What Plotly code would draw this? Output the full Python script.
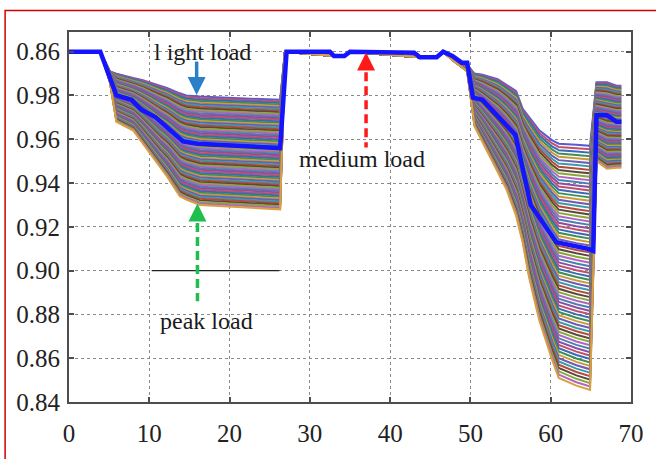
import numpy as np
import plotly.graph_objects as go

# Time axis (samples) shared by the bus voltage band
hours = [0, 3.9, 5.1, 5.9, 8.0, 9.2, 11.3, 12.2, 13.8, 14.6, 16.3, 26.3, 26.9,
         33.0, 34.3, 35.0, 43.7, 45.8, 46.6, 47.8, 48.9, 49.6, 50.5, 51.5, 53.4,
         54.5, 55.7, 56.5, 57.3, 58.2, 58.6, 60.2, 60.8, 61.0, 63.2, 64.9, 65.7,
         67.0, 68.2, 68.8]

# Highest and lowest bus voltages (p.u.) at each sample
band_upper = [1.0, 1.0, 0.991, 0.990, 0.988, 0.987, 0.9845, 0.9835, 0.981, 0.980,
              0.9795, 0.978, 1.0, 0.998, 0.998, 1.0, 0.9975, 0.9975, 1.0, 0.998,
              0.995, 0.994, 0.990, 0.9895, 0.9875, 0.985, 0.982, 0.974, 0.970,
              0.966, 0.964, 0.9595, 0.9585, 0.958, 0.9575, 0.957, 0.986, 0.986,
              0.9845, 0.9845]
band_lower = [1.0, 1.0, 0.986, 0.968, 0.964, 0.958, 0.947, 0.943, 0.934, 0.9325,
              0.930, 0.928, 1.0, 0.998, 0.998, 1.0, 0.9975, 0.9975, 1.0, 0.996,
              0.993, 0.991, 0.966, 0.959, 0.945, 0.937, 0.925, 0.913, 0.897,
              0.883, 0.877, 0.859, 0.853, 0.851, 0.8475, 0.8455, 0.950, 0.9465,
              0.947, 0.947]

# Highlighted voltage profile
mean_x = [0, 3.9, 5.9, 7.8, 9.0, 10.8, 14.2, 16.0, 26.3, 27.1, 32.5, 33.0, 34.3,
          35.0, 43.0, 43.7, 45.8, 46.6, 47.8, 48.9, 49.6, 50.3, 51.5, 55.6, 57.5,
          60.7, 64.6, 65.3, 65.7, 67.0, 68.2, 68.8]
mean_v = [1.0, 1.0, 0.980, 0.978, 0.9735, 0.970, 0.959, 0.958, 0.956, 1.0, 1.0,
          0.998, 0.998, 1.0, 0.9995, 0.9975, 0.9975, 1.0, 0.998, 0.995, 0.995,
          0.979, 0.978, 0.962, 0.930, 0.913, 0.910, 0.909, 0.971, 0.971, 0.968,
          0.968]

# Reference level near the peak-load period
peak_x = [10.3, 26.2]
peak_v = [0.900, 0.900]

x_ticks = [0, 10, 20, 30, 40, 50, 60, 70]
y_ticks = [0.84, 0.86, 0.88, 0.90, 0.92, 0.94, 0.96, 0.98, 1.00]
y_tick_text = ["0.84", "0.86", "0.88", "0.90", "0.92", "0.94", "0.96", "0.98", "0.86"]

n_buses = 72
palette = ["#8a4f9e", "#c0506e", "#3c68b8", "#3b8f5a", "#c99a3a", "#6d5bb5",
           "#3a9aa8", "#b44a3e", "#5a4a3a", "#8aa83a", "#b066c0", "#4a7fb0"]

SERIF = "Liberation Serif, Times New Roman, serif"

fig = go.Figure()

# Individual bus voltage curves, spread between the band envelopes
up = np.array(band_upper)
lo = np.array(band_lower)
for i, frac in enumerate(np.linspace(0.0, 1.0, n_buses)):
    color = palette[i % len(palette)]
    if i == 0:
        color = "#5a5ad0"
    if i == n_buses - 1:
        color = "#d8a040"
    fig.add_trace(go.Scatter(
        x=hours, y=up - (up - lo) * frac, mode="lines",
        line=dict(color=color, width=2.0),
        hoverinfo="skip", showlegend=False,
    ))

fig.add_trace(go.Scatter(
    x=peak_x, y=peak_v, mode="lines",
    line=dict(color="#222222", width=1.2),
    hoverinfo="skip", showlegend=False,
))

fig.add_trace(go.Scatter(
    x=mean_x, y=mean_v, mode="lines",
    line=dict(color="#1414ff", width=4.5),
    hoverinfo="skip", showlegend=False,
))

# Arrow shafts
fig.add_trace(go.Scatter(x=[15.9, 15.9], y=[0.9955, 0.9875], mode="lines",
                         line=dict(color="#2a7fc9", width=3.5),
                         hoverinfo="skip", showlegend=False))
fig.add_trace(go.Scatter(x=[37.0, 37.0], y=[0.9906, 0.9562], mode="lines",
                         line=dict(color="#ff1a1a", width=3.5, dash="9px,5px"),
                         hoverinfo="skip", showlegend=False))
fig.add_trace(go.Scatter(x=[16.0, 16.0], y=[0.9218, 0.886], mode="lines",
                         line=dict(color="#1fbf4f", width=3.5, dash="9px,5px"),
                         hoverinfo="skip", showlegend=False))
# Arrow heads
fig.add_trace(go.Scatter(x=[15.9], y=[0.9802], mode="markers",
                         marker=dict(symbol="arrow-down", size=18, color="#2a7fc9"),
                         hoverinfo="skip", showlegend=False))
fig.add_trace(go.Scatter(x=[37.0], y=[0.9996], mode="markers",
                         marker=dict(symbol="arrow-up", size=18, color="#ff1a1a"),
                         hoverinfo="skip", showlegend=False))
fig.add_trace(go.Scatter(x=[16.0], y=[0.9307], mode="markers",
                         marker=dict(symbol="arrow-up", size=18, color="#1fbf4f"),
                         hoverinfo="skip", showlegend=False))

labels = [
    ("l ight load", 16.6, 1.0),
    ("medium load", 36.5, 0.9512),
    ("peak load", 17.1, 0.877),
]
for text, x, y in labels:
    fig.add_annotation(x=x, y=y, text=text, showarrow=False,
                       xanchor="center", yanchor="middle",
                       font=dict(family=SERIF, size=24, color="#1a1a1a"))

# Outer red frame
fig.add_shape(type="rect", xref="paper", yref="paper",
              x0=(5 - 69) / 563, x1=(720 - 69) / 563,
              y0=(410 - 520) / 378, y1=(410 - 10) / 378,
              line=dict(color="#d40000", width=1.5), layer="above")

axis_common = dict(
    showline=True, linecolor="#4d4d4d", linewidth=2, mirror="ticks",
    ticks="inside", ticklen=5, tickcolor="#4d4d4d", tickwidth=1.5,
    showgrid=True, gridcolor="#8a8a8a", gridwidth=1, griddash="dot",
    zeroline=False,
    tickfont=dict(family=SERIF, size=25, color="#222222"),
)

fig.update_layout(
    width=656, height=459,
    margin=dict(l=69, r=24, t=32, b=49),
    paper_bgcolor="white", plot_bgcolor="white",
    xaxis=dict(range=[0, 70], tickvals=x_ticks, ticklabelstandoff=8, **axis_common),
    yaxis=dict(range=[0.84, 1.009], tickvals=y_ticks, ticktext=y_tick_text,
               ticklabelstandoff=2, **axis_common),
)

fig.write_html("out.html")
